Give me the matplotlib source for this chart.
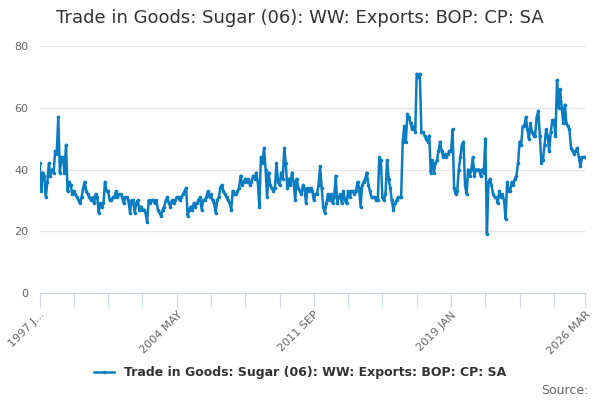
import matplotlib
matplotlib.use("Agg")
import matplotlib.pyplot as plt
import pandas as pd

title = "Trade in Goods: Sugar (06): WW: Exports: BOP: CP: SA"
series_name = "Trade in Goods: Sugar (06): WW: Exports: BOP: CP: SA"
start_month = "1997-01-01"

values = [
    42, 33, 39, 38, 31, 36, 42, 38, 40, 39, 46, 45,   # 1997
    57, 39, 44, 44, 39, 48, 33, 36, 35, 32, 33, 32,   # 1998
    31, 30, 29, 31, 34, 36, 33, 32, 31, 30, 31, 29,   # 1999
    32, 31, 26, 29, 28, 29, 36, 33, 33, 30, 30, 31,   # 2000
    31, 33, 31, 32, 32, 31, 29, 31, 31, 30, 26, 30,   # 2001
    30, 26, 29, 30, 27, 28, 27, 27, 26, 23, 30, 29,   # 2002
    30, 30, 29, 30, 27, 26, 25, 27, 28, 30, 31, 29,   # 2003
    28, 30, 29, 30, 31, 31, 30, 31, 32, 33, 34, 25,   # 2004
    27, 28, 27, 29, 28, 29, 30, 31, 27, 30, 30, 31,   # 2005
    33, 31, 32, 30, 29, 26, 30, 31, 34, 35, 33, 32,   # 2006
    31, 30, 29, 27, 33, 32, 32, 33, 34, 38, 35, 36,   # 2007
    37, 36, 37, 35, 36, 38, 37, 39, 36, 28, 44, 42,   # 2008
    47, 40, 31, 39, 35, 34, 33, 34, 42, 36, 35, 39,   # 2009
    37, 47, 42, 34, 37, 35, 39, 36, 30, 37, 34, 33,   # 2010
    32, 35, 34, 29, 34, 33, 34, 33, 30, 32, 32, 35,   # 2011
    41, 34, 28, 26, 29, 32, 30, 32, 29, 31, 38, 29,   # 2012
    31, 32, 29, 33, 30, 29, 33, 31, 33, 33, 32, 33,   # 2013
    36, 34, 28, 35, 36, 37, 39, 35, 33, 31, 31, 31,   # 2014
    30, 30, 44, 43, 31, 30, 32, 43, 37, 34, 30, 27,   # 2015
    29, 30, 31, 31, 31, 49, 54, 49, 58, 57, 55, 53,   # 2016
    54, 52, 71, 70, 71, 52, 52, 51, 50, 49, 51, 39,   # 2017
    43, 39, 42, 43, 46, 49, 46, 44, 45, 44, 45, 46,   # 2018
    46, 53, 34, 32, 33, 40, 44, 48, 49, 35, 32, 40,   # 2019
    38, 40, 44, 38, 40, 40, 40, 38, 40, 39, 50, 19,   # 2020
    36, 37, 35, 32, 31, 31, 29, 33, 31, 32, 30, 24,   # 2021
    36, 33, 33, 36, 35, 37, 38, 42, 49, 48, 54, 54,   # 2022
    57, 53, 50, 55, 52, 51, 51, 57, 59, 51, 42, 43,   # 2023
    48, 53, 51, 46, 52, 56, 56, 51, 69, 60, 66, 60,   # 2024
    55, 61, 55, 54, 53, 47, 46, 45, 46, 47, 44, 41,   # 2025
    44, 44, 44,                                       # 2026
]

y_ticks = [0, 20, 40, 60, 80]
x_labels = ["1997 J...", "2004 MAY", "2011 SEP", "2019 JAN", "2026 MAR"]

dates = pd.date_range(start_month, periods=len(values), freq="MS")

fig = plt.figure(figsize=(6, 4), dpi=100)
ax = fig.add_axes([0.066, 0.2675, 0.909, 0.6175])

color = "#0a7dc2"
ax.plot(dates, values, color=color, lw=1.8, marker="o", ms=2.6,
        markeredgewidth=0, label=series_name, zorder=3)

ax.set_ylim(0, 80)
ax.set_xlim(dates[0], dates[-1])
ax.set_yticks(y_ticks)
ax.yaxis.grid(True, color="#e6e6e6", lw=1)
ax.set_axisbelow(True)
for s in ["left", "right", "top"]:
    ax.spines[s].set_visible(False)
ax.spines["bottom"].set_color("#ccd6eb")
ax.tick_params(axis="y", length=0, labelsize=8, labelcolor="#666666", pad=8)

# x ticks every 22 months plus last; labels every 88 months
tick_idx = list(range(0, len(values), 22))
if tick_idx[-1] != len(values) - 1:
    tick_idx.append(len(values) - 1)
ax.set_xticks([dates[i] for i in tick_idx])
lab_idx = [0, 88, 176, 264, len(values) - 1]
labels = []
for i in tick_idx:
    labels.append(x_labels[lab_idx.index(i)] if i in lab_idx else "")
ax.set_xticklabels(labels, rotation=45, ha="right", va="top",
                   rotation_mode="anchor")
ax.tick_params(axis="x", length=10, color="#ccd6eb", labelsize=8,
               labelcolor="#666666", pad=2)

fig.text(0.5, 0.955, title, ha="center", va="center", fontsize=13,
         color="#333333")

leg = fig.legend(loc="center", bbox_to_anchor=(0.5, 0.068), frameon=False,
                 prop={"weight": "bold", "size": 9}, handlelength=1.6,
                 labelcolor="#333333")

fig.text(0.98, 0.025, "Source:", ha="right", va="center", fontsize=9,
         color="#666666")

fig.savefig("out.png", dpi=100)
